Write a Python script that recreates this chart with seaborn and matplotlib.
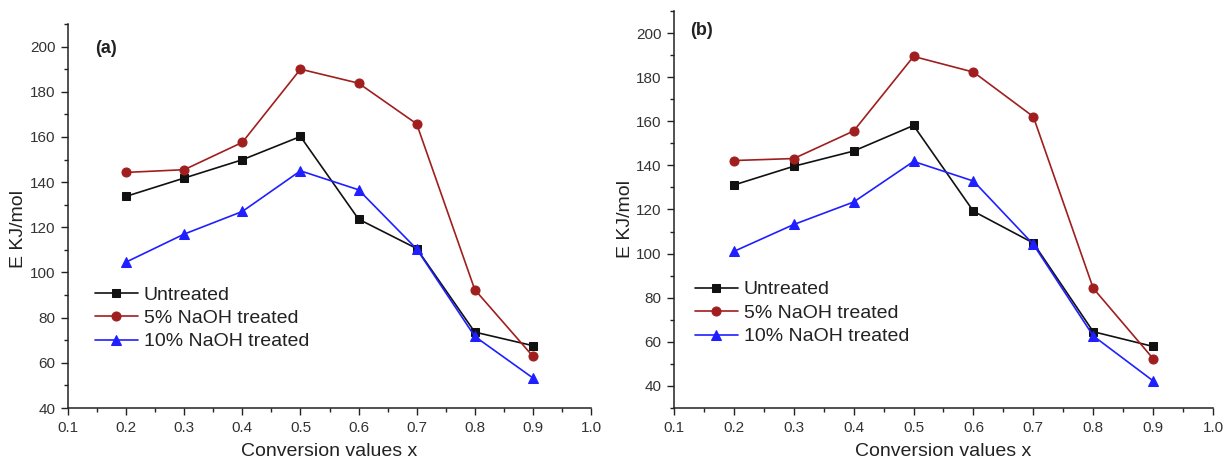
import numpy as np
import pandas as pd
import matplotlib
matplotlib.use("Agg")
import matplotlib.pyplot as plt
from matplotlib.ticker import MultipleLocator
import seaborn as sns

# ---- data ----
conversion = [0.2, 0.3, 0.4, 0.5, 0.6, 0.7, 0.8, 0.9]
series_names = ["Untreated", "5% NaOH treated", "10% NaOH treated"]

a_untreated = [133.7, 141.8, 149.9, 160.2, 123.6, 110.6, 73.6, 67.6]
a_naoh5 = [144.3, 145.5, 157.6, 190.0, 183.8, 165.8, 92.4, 62.9]
a_naoh10 = [104.6, 117.0, 127.0, 145.0, 136.6, 110.4, 71.7, 53.3]

b_untreated = [131.1, 139.6, 146.5, 158.1, 119.2, 104.8, 64.6, 57.9]
b_naoh5 = [142.2, 143.1, 155.6, 189.4, 182.3, 162.1, 84.3, 52.4]
b_naoh10 = [101.0, 113.2, 123.4, 141.8, 132.9, 104.2, 62.7, 42.3]

panel_labels = ["(a)", "(b)"]
x_label = "Conversion values x"
y_label = "E KJ/mol"

colors = ["#111111", "#A01E1E", "#1F1FFF"]
markers = ["s", "o", "^"]
msizes = [5.5, 6.5, 7]

sns.set_theme(style="ticks")
plt.rcParams["font.family"] = ["Liberation Sans", "DejaVu Sans"]

fig = plt.figure(figsize=(12.29, 4.61), dpi=100)
W, H = 1229, 461
def box(l, r, t, b):
    return [l / W, (H - b) / H, (r - l) / W, (b - t) / H]

ax_a = fig.add_axes(box(68, 591, 24, 408))
ax_b = fig.add_axes(box(674, 1213, 11, 408))

panels = [
    (ax_a, [a_untreated, a_naoh5, a_naoh10], (40, 210), (0.052, 0.9375), (0.0516, 0.234), (-0.078, 0.466)),
    (ax_b, [b_untreated, b_naoh5, b_naoh10], (30, 210), (0.030, 0.952), (0.039, 0.239), (-0.074, 0.476)),
]

for i, (ax, vals, ylim, lab_pos, leg_pos, ylab_pos) in enumerate(panels):
    for name, v, c, m, ms in zip(series_names, vals, colors, markers, msizes):
        df = pd.DataFrame({"x": conversion, "y": v})
        sns.lineplot(data=df, x="x", y="y", ax=ax, color=c, marker=m,
                     markersize=ms, markeredgecolor=c, linewidth=1.2,
                     label=name)
    ax.set_xlim(0.1, 1.0)
    ax.set_ylim(*ylim)
    ax.xaxis.set_major_locator(MultipleLocator(0.1))
    ax.xaxis.set_minor_locator(MultipleLocator(0.05))
    ax.set_yticks(np.arange(40, 201, 20))
    ax.yaxis.set_minor_locator(MultipleLocator(10))
    ax.xaxis.set_major_formatter(matplotlib.ticker.FormatStrFormatter("%.1f"))
    for s in ["top", "right"]:
        ax.spines[s].set_visible(False)
    for s in ["left", "bottom"]:
        ax.spines[s].set_linewidth(1.1)
        ax.spines[s].set_color("#222222")
    ax.tick_params(which="major", direction="out", length=5, width=1.0,
                   colors="#222222", labelsize=11, pad=4, labelcolor="#333333")
    ax.tick_params(which="minor", direction="out", length=3, width=1.0,
                   colors="#222222")
    ax.set_xlabel(x_label, fontsize=14, color="#222222", labelpad=6)
    ax.set_ylabel(y_label, fontsize=14, color="#222222", labelpad=2)
    ax.yaxis.set_label_coords(*ylab_pos)
    ax.text(lab_pos[0], lab_pos[1], panel_labels[i], transform=ax.transAxes,
            fontsize=13, fontweight="bold", va="center", ha="left",
            color="#222222")
    leg = ax.legend(loc="center left", bbox_to_anchor=leg_pos, frameon=False,
                    fontsize=14, handlelength=2.2, handletextpad=0.3,
                    labelspacing=0.3, borderpad=0, borderaxespad=0)
    for t in leg.get_texts():
        t.set_color("#222222")
    ax.set_facecolor("white")

fig.savefig("out.png", dpi=100, facecolor="white")
